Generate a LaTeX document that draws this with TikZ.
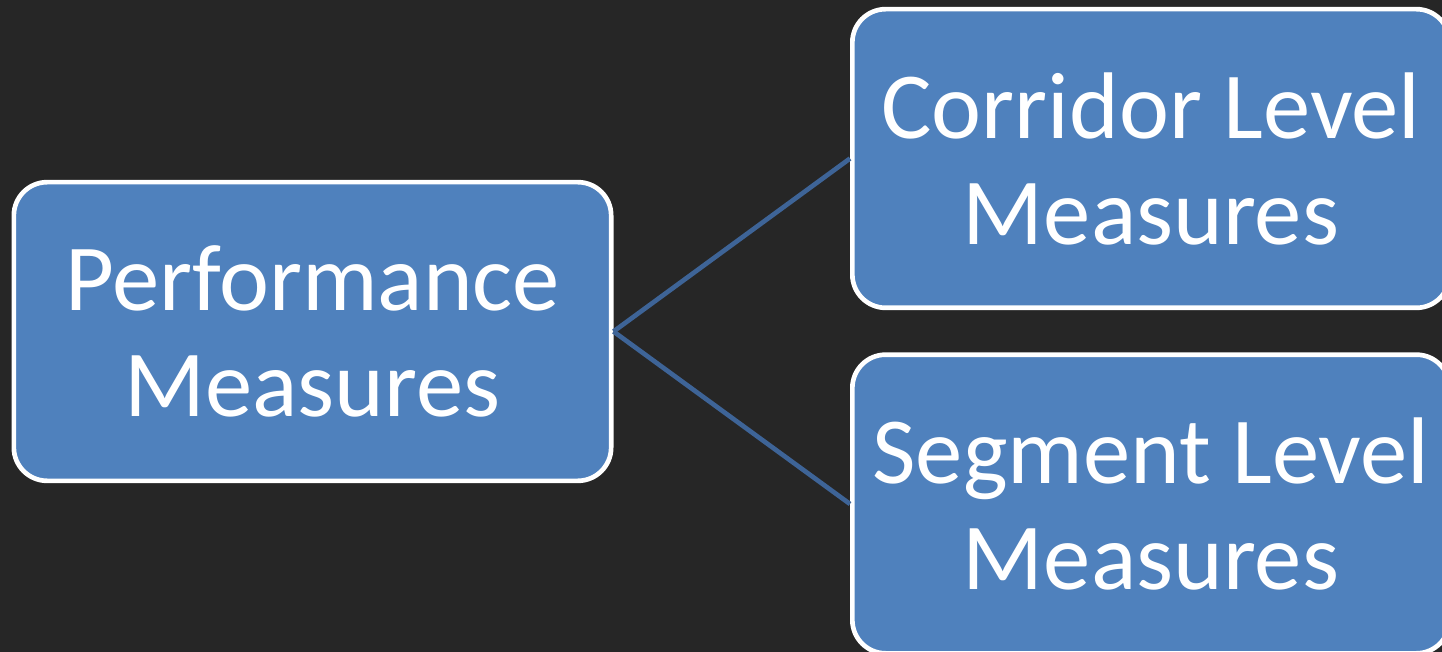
\documentclass[tikz,border=0pt]{standalone}
\usepackage{fontspec}
\setmainfont{Carlito}
\definecolor{bg}{HTML}{262626}
\definecolor{boxblue}{HTML}{4F81BD}
\definecolor{linkblue}{HTML}{3E6497}
\begin{document}
\begin{tikzpicture}[x=0.75pt,y=-0.75pt,
  measurebox/.style={draw=white,line width=3.5pt,fill=boxblue,rounded corners=25pt,
    minimum width=448pt,minimum height=224pt,inner sep=0pt,align=center,text=white,
    font=\fontsize{71}{79.5}\selectfont},
  link/.style={draw=linkblue,line width=3.5pt}]
\useasboundingbox (0,0) rectangle (1442,652);
\fill[bg] (0,0) rectangle (1442,652);
\node[measurebox] (perf) at (312.5,331.5) {Performance\\Measures};
\node[measurebox] (corr) at (1151,158.5) {Corridor Level\\Measures};
\node[measurebox] (seg) at (1151,504) {Segment Level\\Measures};
\draw[link] (perf.east) -- (corr.west);
\draw[link] (perf.east) -- (seg.west);
\end{tikzpicture}
\end{document}
